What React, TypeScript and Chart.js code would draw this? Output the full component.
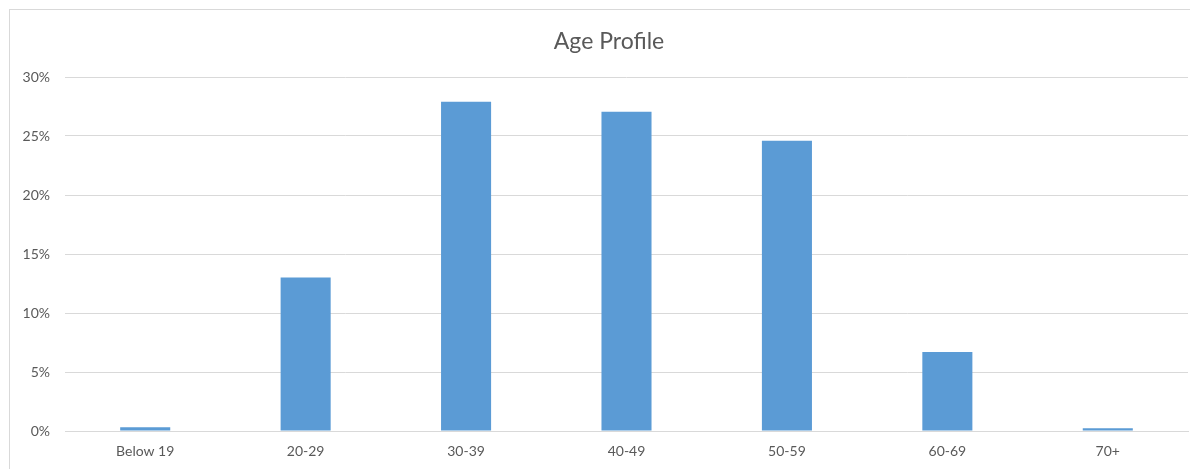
import React, { useEffect, useRef } from "react";
import { Chart, registerables } from "chart.js";

Chart.register(...registerables);

const categories = ["Below 19", "20-29", "30-39", "40-49", "50-59", "60-69", "70+"];
const shares = [0.31, 13.0, 27.9, 27.05, 24.6, 6.7, 0.23];
const chartTitle = "Age Profile";

const titlePlugin = {
  id: "centeredTitle",
  afterDraw(chart: any) {
    const ctx = chart.ctx;
    ctx.save();
    ctx.fillStyle = "#595959";
    ctx.font = "23px Lato, 'Open Sans', sans-serif";
    ctx.textAlign = "center";
    ctx.textBaseline = "middle";
    ctx.fillText(chartTitle, 599, 32);
    ctx.restore();
  },
};

export default function App() {
  const ref = useRef<HTMLCanvasElement | null>(null);

  useEffect(() => {
    document.body.style.overflow = "hidden";
    const canvas = ref.current;
    if (!canvas) return;
    const chart = new Chart(canvas, {
      type: "bar",
      data: {
        labels: categories,
        datasets: [
          {
            data: shares,
            backgroundColor: "#5B9BD5",
            borderWidth: 0,
            barPercentage: 0.312,
            categoryPercentage: 1,
          },
        ],
      },
      options: {
        responsive: false,
        animation: false,
        layout: { padding: { left: 0, right: 10, top: 67, bottom: 0 } },
        plugins: {
          legend: { display: false },
          tooltip: { enabled: false },
          title: { display: false },
        },
        scales: {
          x: {
            grid: { display: false, drawTicks: false },
            border: { display: true, color: "#d9d9d9" },
            ticks: {
              color: "#595959",
              font: { family: "Lato, 'Open Sans', sans-serif", size: 14 },
              padding: 12,
              maxRotation: 0,
            },
            afterFit: (scale: any) => {
              scale.height = 38;
            },
          },
          y: {
            min: 0,
            max: 30,
            grid: { color: "#d9d9d9", drawTicks: false },
            border: { display: false },
            ticks: {
              stepSize: 5,
              color: "#595959",
              font: { family: "Lato, 'Open Sans', sans-serif", size: 14 },
              padding: 15,
              callback: (v: any) => v + "%",
            },
            afterFit: (scale: any) => {
              scale.width = 55;
            },
          },
        },
      },
      plugins: [titlePlugin],
    });
    return () => chart.destroy();
  }, []);

  return (
    <div
      style={{
        marginLeft: 1,
        marginTop: 1,
        width: 1189,
        height: 460,
        borderTop: "1px solid #d9d9d9",
        borderLeft: "1px solid #d9d9d9",
        boxSizing: "border-box",
        background: "#fff",
      }}
    >
      <canvas ref={ref} width={1188} height={459} style={{ display: "block" }} />
    </div>
  );
}
